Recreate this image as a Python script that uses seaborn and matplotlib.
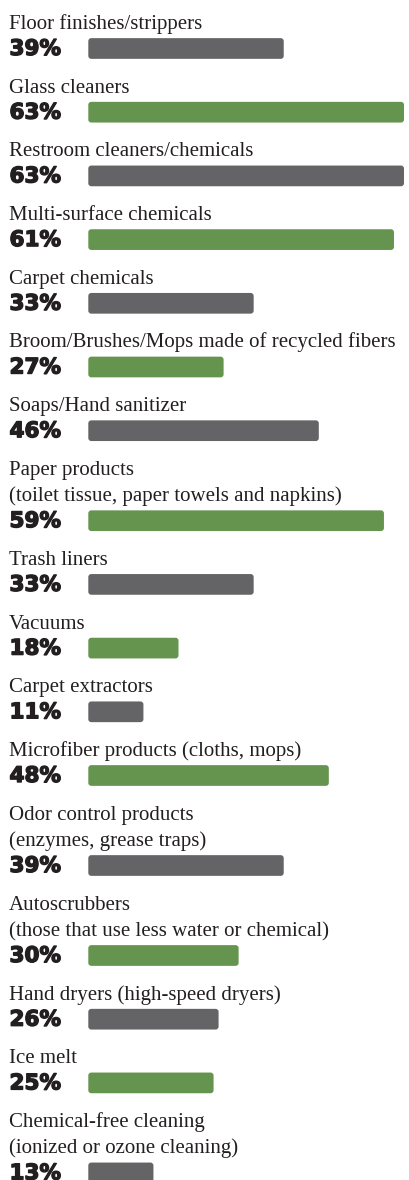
import numpy as np
import pandas as pd
import matplotlib
matplotlib.use("Agg")
import matplotlib.pyplot as plt
import matplotlib.patheffects as pe
from matplotlib.patches import FancyBboxPatch
import seaborn as sns

# Survey categories (label lines) and share of respondents, in percent
categories = [
    ["Floor finishes/strippers"],
    ["Glass cleaners"],
    ["Restroom cleaners/chemicals"],
    ["Multi-surface chemicals"],
    ["Carpet chemicals"],
    ["Broom/Brushes/Mops made of recycled fibers"],
    ["Soaps/Hand sanitizer"],
    ["Paper products", "(toilet tissue, paper towels and napkins)"],
    ["Trash liners"],
    ["Vacuums"],
    ["Carpet extractors"],
    ["Microfiber products (cloths, mops)"],
    ["Odor control products", "(enzymes, grease traps)"],
    ["Autoscrubbers", "(those that use less water or chemical)"],
    ["Hand dryers (high-speed dryers)"],
    ["Ice melt"],
    ["Chemical-free cleaning", "(ionized or ozone cleaning)"],
]
percents = [39, 63, 63, 61, 33, 27, 46, 59, 33, 18, 11, 48, 39, 30, 26, 25, 13]

GRAY = "#646466"
GREEN = "#619f43"
INK = "#231f20"

# Figure geometry (pixels)
W, H = 409, 1180
BAR_LEFT_PX = 88.3
PX_PER_PCT = 5.011
BAR_H = 20.7
FIRST_CENTER = 48.5
ROW_STEP = 63.7
LINE_STEP = 26.3

# vertical centre of each bar, growing with the number of label lines
centers = []
y = FIRST_CENTER
for i, lines in enumerate(categories):
    if i > 0:
        y += ROW_STEP + LINE_STEP * (len(lines) - 1)
    centers.append(y)
centers = np.array(centers)

df = pd.DataFrame({
    "pos": centers,
    "pct": percents,
    "shade": ["gray" if i % 2 == 0 else "green" for i in range(len(percents))],
})

fig = plt.figure(figsize=(W / 100, H / 100), dpi=100)
ax = fig.add_axes([0, 0, 1, 1])

width = BAR_H / np.min(np.diff(centers))
sns.barplot(data=df, x="pct", y="pos", hue="shade", orient="h",
            native_scale=True, dodge=False, width=width, errorbar=None,
            palette={"gray": GRAY, "green": GREEN}, legend=False,
            linewidth=0, ax=ax)

ax.set_xlim(-BAR_LEFT_PX / PX_PER_PCT, (W - BAR_LEFT_PX) / PX_PER_PCT)
ax.set_ylim(H, 0)
ax.axis("off")

# swap the plain rectangles for rounded ones
radius_px = 3.0
for p in list(ax.patches):
    x0, y0 = p.get_x(), p.get_y()
    w, h = p.get_width(), p.get_height()
    fc = p.get_facecolor()
    p.remove()
    r = radius_px / PX_PER_PCT
    ax.add_patch(FancyBboxPatch(
        (x0, y0), w, h,
        boxstyle=f"round,pad=0,rounding_size={r}",
        mutation_aspect=PX_PER_PCT,
        facecolor=fc, edgecolor="none", linewidth=0))


def px_x(px):
    return (px - BAR_LEFT_PX) / PX_PER_PCT


label_font = dict(family="Liberation Serif", fontsize=15, color=INK)
value_font = dict(family="DejaVu Sans", fontweight="bold", fontsize=15.5,
                  color=INK)
stroke = [pe.withStroke(linewidth=1.0, foreground=INK)]

for lines, pct, c in zip(categories, percents, centers):
    n = len(lines)
    for j, line in enumerate(lines):
        base = c - 19.5 - LINE_STEP * (n - 1 - j)
        ax.text(px_x(9), base, line, va="baseline", ha="left", **label_font)
    ax.text(px_x(9.5), c + 6.5, f"{pct}%", va="baseline", ha="left",
            path_effects=stroke, **value_font)

fig.savefig("out.png", dpi=100, facecolor="white")
